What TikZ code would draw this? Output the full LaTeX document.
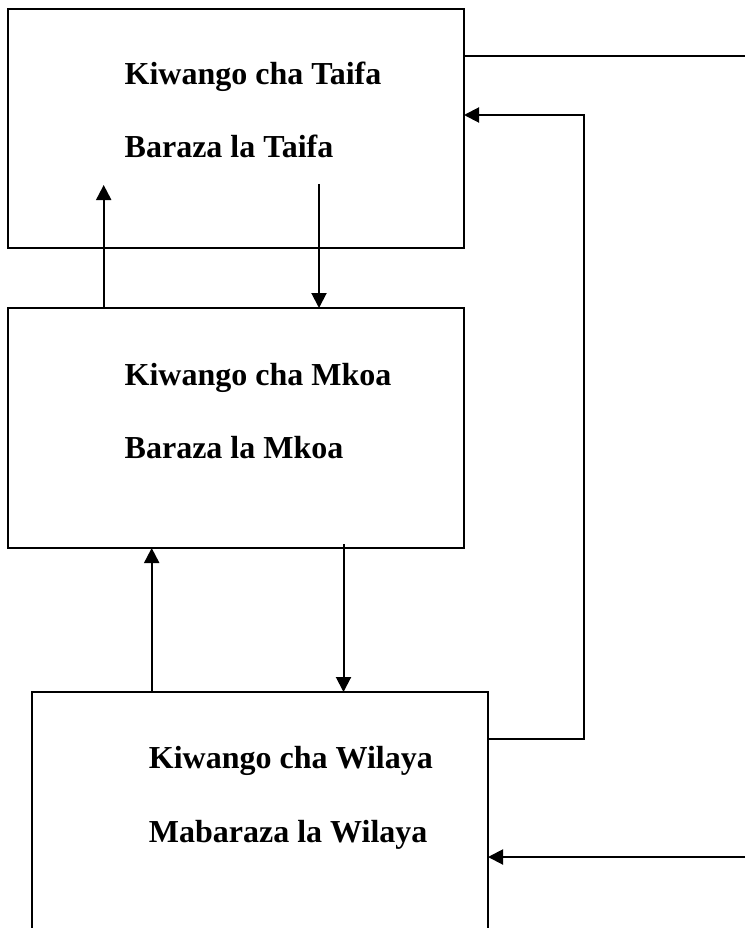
\documentclass[tikz,border=0pt]{standalone}
\usepackage{fontspec}
\setmainfont{Liberation Serif}
\usetikzlibrary{arrows.meta,calc}
\begin{document}
\begin{tikzpicture}[x=1pt,y=-1pt,
  box/.style={draw,line width=2.4pt,minimum width=456pt,inner sep=0pt,outer sep=0pt,anchor=north west},
  lbl/.style={anchor=base west,inner sep=0pt,font=\fontsize{32}{38}\selectfont\bfseries},
  conn/.style={line width=2pt},
  arr/.style={conn,-{Triangle[length=15pt,width=15pt]}}]
\useasboundingbox (0,0) rectangle (745,928);
\clip (0,0) rectangle (745,928);
% boxes
\node[box,minimum height=239pt] (taifa) at (8,9) {};
\node[box,minimum height=240pt] (mkoa) at (8,308) {};
\node[box,minimum height=260pt] (wilaya) at (32,692) {};
% labels
\node[lbl] (t1) at (124.5,85) {Kiwango cha Taifa};
\node[lbl] (t2) at (124.5,158) {Baraza la Taifa};
\node[lbl] (m1) at (124.5,385) {Kiwango cha Mkoa};
\node[lbl] (m2) at (124.5,458) {Baraza la Mkoa};
\node[lbl] (w1) at (148.7,768) {Kiwango cha Wilaya};
\node[lbl] (w2) at (148.7,842) {Mabaraza la Wilaya};
% free ends
\coordinate (aTop) at (103.7,185);
\coordinate (bTop) at (319,184);
\coordinate (cX) at (151.7,0);
\coordinate (dX) at (343.5,0);
\coordinate (eR) at (745,55.7);
\coordinate (gR) at (745,857);
% connectors
\draw[arr] (aTop |- mkoa.north) -- (aTop);
\draw[arr] (bTop) -- (bTop |- mkoa.north);
\draw[arr] (cX |- wilaya.north) -- (cX |- mkoa.south);
\draw[arr] ($(dX |- mkoa.south)+(0,-4)$) -- (dX |- wilaya.north);
\draw[conn] (eR -| taifa.east) -- (eR);
\draw[arr] ($(wilaya.north east)+(0,47)$) -- ++(96,0) |- ($(taifa.north east)+(0,106)$);
\draw[arr] (gR) -- (gR -| wilaya.east);
\end{tikzpicture}
\end{document}
